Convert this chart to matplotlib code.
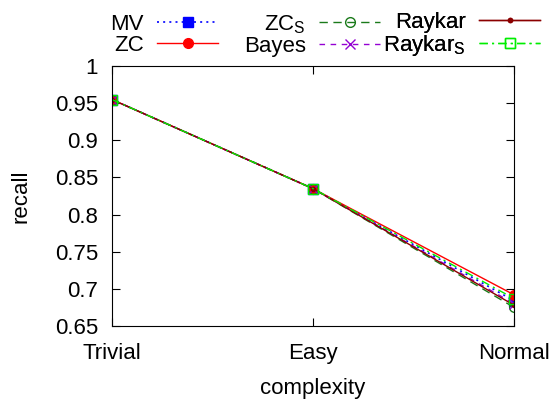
import matplotlib.pyplot as plt

categories = ['Trivial', 'Easy', 'Normal']
mv = [0.955, 0.835, 0.684]
zc = [0.955, 0.835, 0.692]
zc_s = [0.955, 0.835, 0.675]
bayes = [0.955, 0.835, 0.680]
raykar = [0.955, 0.835, 0.678]
raykar_s = [0.955, 0.835, 0.687]

plt.rcParams['font.family'] = ['Liberation Sans', 'DejaVu Sans']
plt.rcParams['font.size'] = 16

fig = plt.figure(figsize=(5.54, 4.03), dpi=100)
ax = fig.add_axes([0.202, 0.191, 0.726, 0.645])

x = range(len(categories))
l1, = ax.plot(x, mv, color='blue', dashes=(1.2, 2.5), marker='s', markersize=7, lw=1.2, label='MV')
l2, = ax.plot(x, zc, color='red', linestyle='-', marker='o', markersize=7, lw=1, label='ZC')
l3, = ax.plot(x, zc_s, color='#1a7a1a', dashes=(6, 4), marker='o', markersize=7, mfc='none', lw=1, label='ZC$_\\mathregular{S}$')
l4, = ax.plot(x, bayes, color='#9400d3', dashes=(4, 4), marker='x', markersize=7, lw=1, label='Bayes')
l5, = ax.plot(x, raykar, color='#8b0000', linestyle='-', marker='o', markersize=3, lw=1, label='Raykar')
l6, = ax.plot(x, raykar_s, color='#00ee00', dashes=(6, 3, 1.5, 3), marker='s', markersize=7, mfc='none', lw=1, label='Raykar$_\\mathregular{S}$')

ax.set_xlim(0, 2)
ax.set_ylim(0.65, 1)
ax.set_xticks(list(x))
ax.set_xticklabels(categories)
ax.set_yticks([0.65, 0.7, 0.75, 0.8, 0.85, 0.9, 0.95, 1])
ax.set_yticklabels(['0.65', '0.7', '0.75', '0.8', '0.85', '0.9', '0.95', '1'])
ax.tick_params(direction='in', top=True, right=True, length=6)
ax.tick_params(axis='x', pad=12)
ax.tick_params(axis='y', pad=10)
ax.set_xlabel('complexity', labelpad=10)
ax.set_ylabel('recall', labelpad=17)

# one legend per column, right edges like gnuplot's key
cols = [([l1, l2], 0.264), ([l3, l4], 0.667), ([l5, l6], 1.065)]
for handles, xr in cols:
    leg = ax.legend(handles=handles, loc='center right', bbox_to_anchor=(xr, 1.12),
                    frameon=False, markerfirst=False, handlelength=2.75,
                    labelspacing=0.0, borderaxespad=0, borderpad=0, handletextpad=0.6)
    ax.add_artist(leg)

fig.savefig('out.png', dpi=100)
